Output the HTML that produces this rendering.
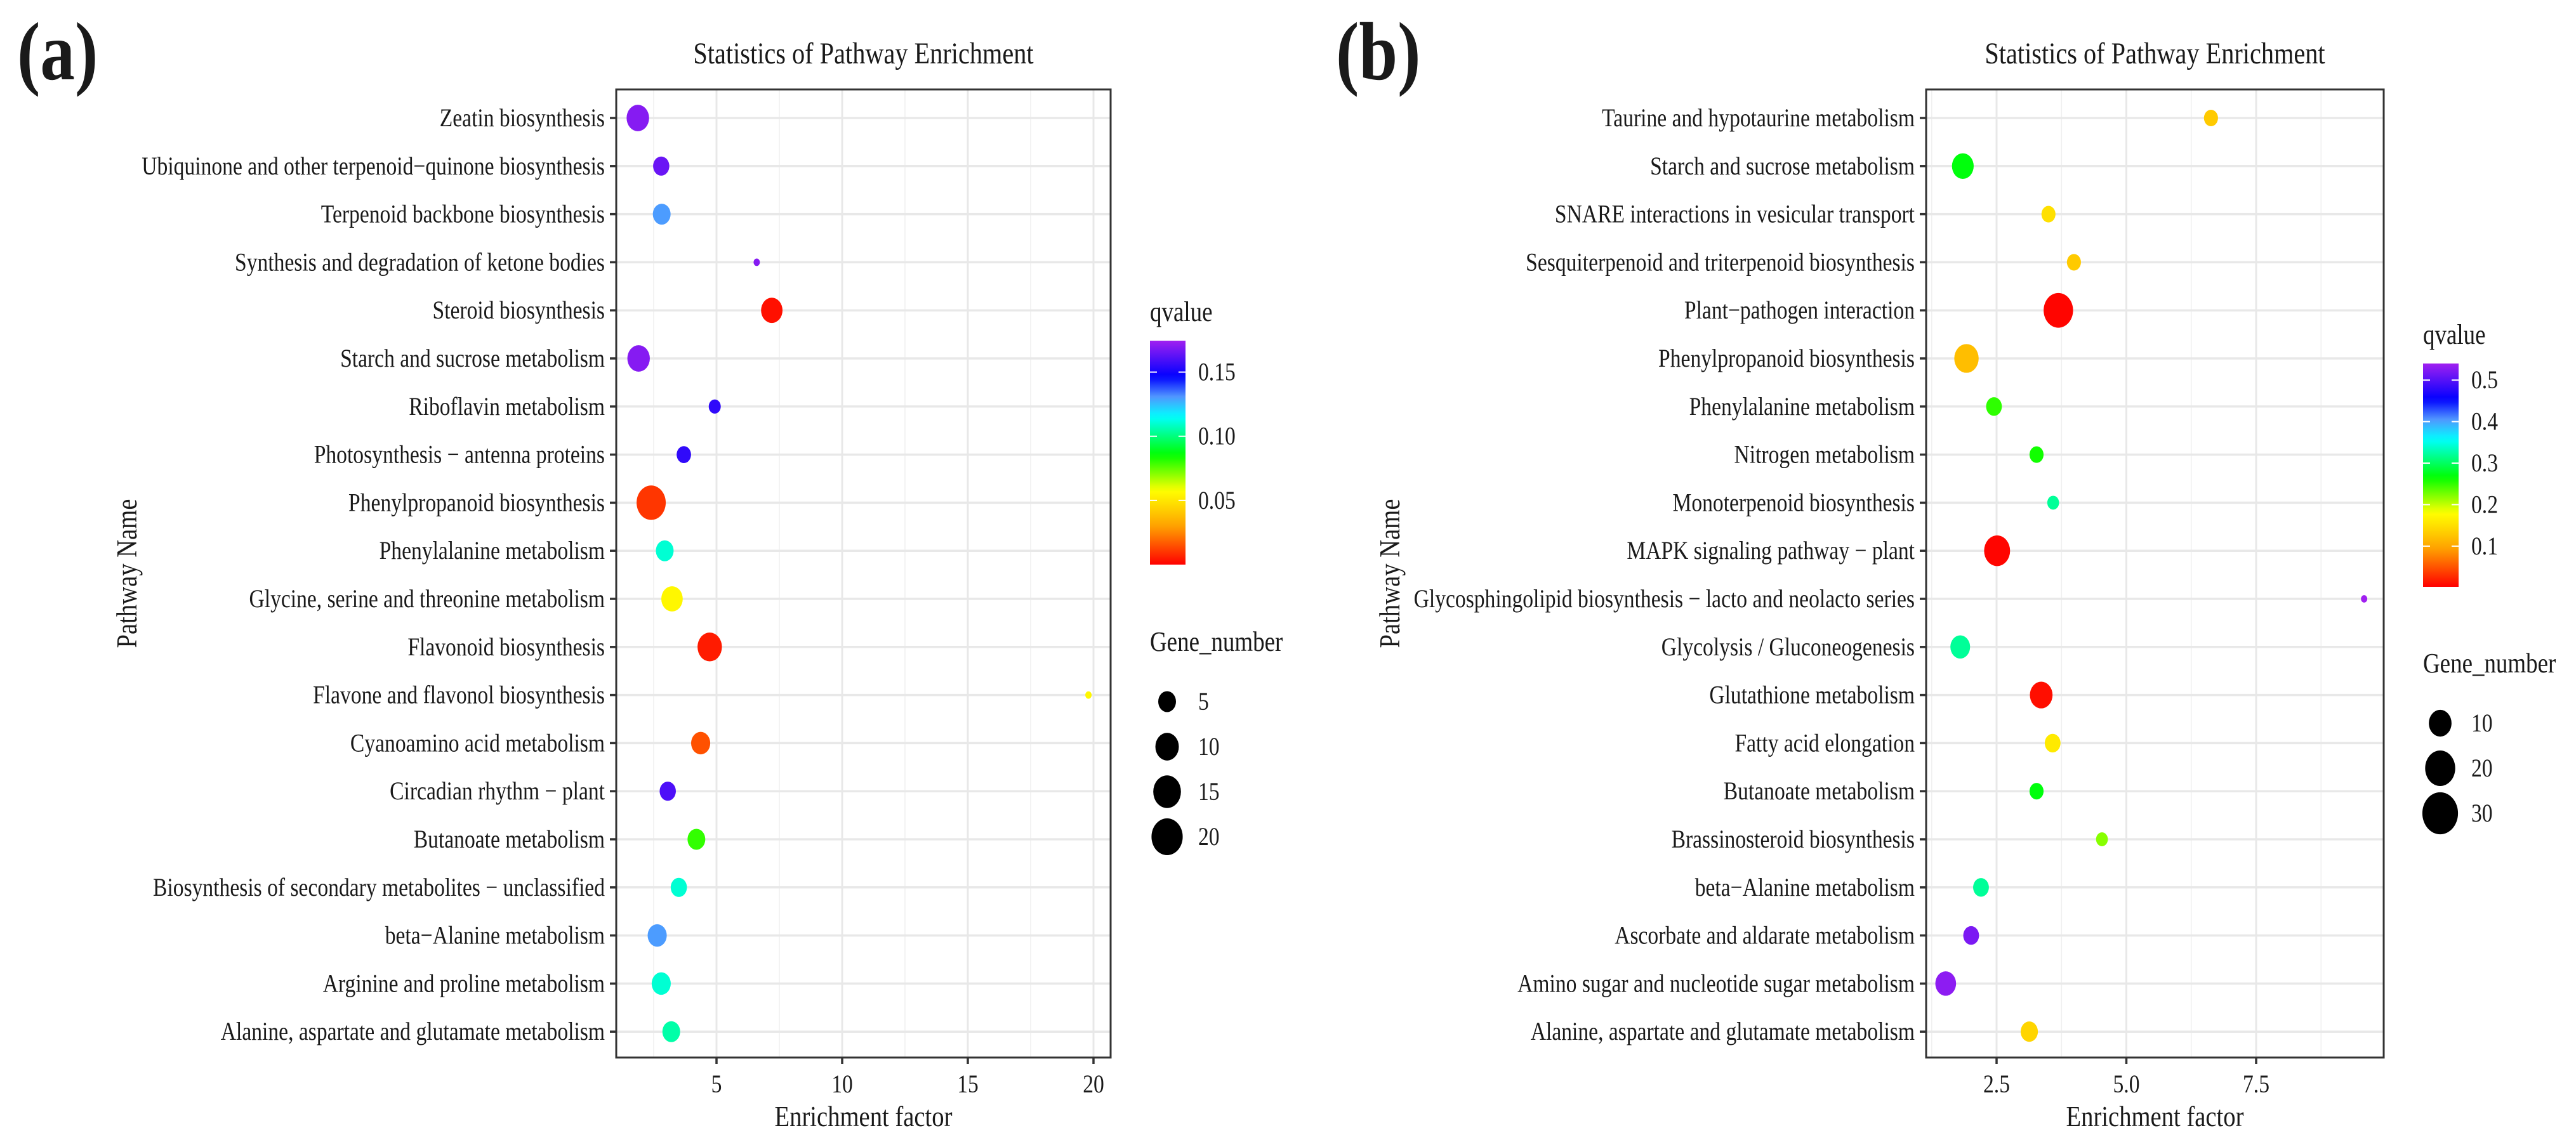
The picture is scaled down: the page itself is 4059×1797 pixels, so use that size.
<!DOCTYPE html>
<html><head><meta charset="utf-8"><style>
html,body{margin:0;padding:0;background:#fff;}
svg{display:block;}
text{font-family:"Liberation Serif",serif;fill:#1a1a1a;}
</style></head>
<body>
<svg id="fig" width="4059" height="1797" viewBox="0 0 4059 1797" xmlns="http://www.w3.org/2000/svg"></svg>
<script>
// ---------- Panel A data ----------
const catsA = ["Zeatin biosynthesis","Ubiquinone and other terpenoid\u2212quinone biosynthesis","Terpenoid backbone biosynthesis","Synthesis and degradation of ketone bodies","Steroid biosynthesis","Starch and sucrose metabolism","Riboflavin metabolism","Photosynthesis \u2212 antenna proteins","Phenylpropanoid biosynthesis","Phenylalanine metabolism","Glycine, serine and threonine metabolism","Flavonoid biosynthesis","Flavone and flavonol biosynthesis","Cyanoamino acid metabolism","Circadian rhythm \u2212 plant","Butanoate metabolism","Biosynthesis of secondary metabolites \u2212 unclassified","beta\u2212Alanine metabolism","Arginine and proline metabolism","Alanine, aspartate and glutamate metabolism"];
const richA = [1.87,2.8,2.82,6.6,7.2,1.9,4.93,3.7,2.4,2.94,3.23,4.73,19.8,4.37,3.06,4.2,3.5,2.64,2.8,3.2];
const genesA = [9,4,5,1,8,9,2,3,17,5,8,11,1,6,4,5,4,6,6,5];
const qA = [0.17,0.165,0.13,0.17,0.003,0.17,0.155,0.155,0.01,0.11,0.055,0.005,0.055,0.015,0.16,0.08,0.11,0.13,0.11,0.105];
const xTicksA = [5,10,15,20];
const qTicksA = [0.05,0.10,0.15];
const qTickLabelsA = ["0.05","0.10","0.15"];
const sizeTicksA = [5,10,15,20];

// ---------- Panel B data ----------
const catsB = ["Taurine and hypotaurine metabolism","Starch and sucrose metabolism","SNARE interactions in vesicular transport","Sesquiterpenoid and triterpenoid biosynthesis","Plant\u2212pathogen interaction","Phenylpropanoid biosynthesis","Phenylalanine metabolism","Nitrogen metabolism","Monoterpenoid biosynthesis","MAPK signaling pathway \u2212 plant","Glycosphingolipid biosynthesis \u2212 lacto and neolacto series","Glycolysis / Gluconeogenesis","Glutathione metabolism","Fatty acid elongation","Butanoate metabolism","Brassinosteroid biosynthesis","beta\u2212Alanine metabolism","Ascorbate and aldarate metabolism","Amino sugar and nucleotide sugar metabolism","Alanine, aspartate and glutamate metabolism"];
const richB = [6.63,1.85,3.5,3.99,3.69,1.92,2.45,3.27,3.59,2.51,9.58,1.8,3.36,3.58,3.27,4.53,2.2,2.01,1.52,3.13];
const genesB = [3,9,3,3,19,12,4,3,2,14,1,7,10,4,3,2,4,4,8,5];
const qB = [0.13,0.27,0.15,0.13,0.005,0.12,0.25,0.26,0.32,0.005,0.54,0.32,0.01,0.16,0.27,0.22,0.32,0.52,0.53,0.14];
const xTicksB = [2.5,5.0,7.5];
const xTickLabelsB = ["2.5","5.0","7.5"];
const qTicksB = [0.1,0.2,0.3,0.4,0.5];
const qTickLabelsB = ["0.1","0.2","0.3","0.4","0.5"];
const sizeTicksB = [10,20,30];

const NS = "http://www.w3.org/2000/svg";
const svg = document.getElementById('fig');
const SX = 0.84;

function el(tag, attrs, parent){
  const e = document.createElementNS(NS, tag);
  for (const k in attrs) e.setAttribute(k, attrs[k]);
  (parent||svg).appendChild(e);
  return e;
}
function txt(x,y,s,size,anchor,parent,weight){
  const t = el('text',{transform:`translate(${x},${y}) scale(${SX},1)`,'font-size':size,'text-anchor':anchor||'start','font-weight':weight||'normal'},parent);
  t.textContent = s;
  return t;
}
// rainbow colormap: t in [0,1], 0=red, 1=purple
const stops = [[0,[255,0,0]],[0.17,[255,160,0]],[0.26,[255,215,0]],[0.33,[255,255,0]],[0.49,[0,255,0]],[0.66,[0,255,255]],[0.75,[80,150,255]],[0.84,[0,0,255]],[1,[160,32,240]]];
function cmap(t){
  t=Math.max(0,Math.min(1,t));
  for(let i=1;i<stops.length;i++){
    if(t<=stops[i][0]){
      const a=stops[i-1],b=stops[i];const f=(t-a[0])/(b[0]-a[0]);
      const c=a[1].map((v,j)=>Math.round(v+(b[1][j]-v)*f));
      return `rgb(${c[0]},${c[1]},${c[2]})`;
    }
  }
  return 'rgb(160,32,240)';
}

function panel(cfg){
  const g = el('g',{});
  
  
  const L=cfg.left,R=cfg.right,T=141,B=1667;
  const xs = v => cfg.x0 + v*cfg.unit;
  const ys = i => 186 + i*75.8;
  const pl = txt(cfg.labelX,125,cfg.label,130,'start',g,'bold');
  
  
  pl.setAttribute('fill','#000');
  const tt = txt((L+R)/2,100,"Statistics of Pathway Enrichment",48,'middle',g);
  
  
  el('rect',{x:L,y:T,width:R-L,height:B-T,fill:'#fff'},g);
  for(const m of cfg.minor){ if(xs(m)>L&&xs(m)<R) el('line',{x1:xs(m),x2:xs(m),y1:T,y2:B,stroke:'#f0f0f0','stroke-width':1.6},g); }
  cfg.xt.forEach(v=>{ el('line',{x1:xs(v),x2:xs(v),y1:T,y2:B,stroke:'#e8e8e8','stroke-width':3},g); });
  cfg.cats.forEach((c,i)=>{ el('line',{x1:L,x2:R,y1:ys(i),y2:ys(i),stroke:'#e8e8e8','stroke-width':3.5},g); });
  el('rect',{x:L,y:T,width:R-L,height:B-T,fill:'none',stroke:'#333','stroke-width':3},g);
  cfg.cats.forEach((c,i)=>{
    el('line',{x1:L-10,x2:L,y1:ys(i),y2:ys(i),stroke:'#333','stroke-width':3.5},g);
    const t = txt(L-18,ys(i)+13,c,40,'end',g);
    
    
    t.setAttribute('fill','#4d4d4d');
  });
  cfg.xt.forEach((v,i)=>{
    el('line',{x1:xs(v),x2:xs(v),y1:B,y2:B+10,stroke:'#333','stroke-width':3.5},g);
    const t = txt(xs(v),1722,cfg.xtl[i],40,'middle',g);
    
    
    t.setAttribute('fill','#4d4d4d');
  });
  const xt = txt((L+R)/2,1775,"Enrichment factor",46,'middle',g);
  
  
  const yt = el('text',{transform:`translate(${cfg.yTitleX},904) rotate(-90) scale(${SX},1)`,'font-size':46,'text-anchor':'middle'},g);
  yt.textContent = "Pathway Name";
  
  
  const rad = n => cfg.r0 + cfg.r1*Math.sqrt(Math.max(0,(n-cfg.nmin)/(cfg.nmax-cfg.nmin)));
  const qt = q => (q-cfg.qmin)/(cfg.qmax-cfg.qmin);
  cfg.cats.forEach((c,i)=>{
    const r = rad(cfg.genes[i]);
    const p = el('ellipse',{cx:xs(cfg.rich[i]),cy:ys(i),rx:r,ry:r*1.18,fill:cmap(qt(cfg.q[i]))},g);
    
    
  });
  const lt = txt(cfg.legX,cfg.qTitleY,"qvalue",44,'start',g);
  
  
  const gid='grad'+cfg.label.replace(/\W/g,'');
  const defs = el('defs',{},g);
  const lg = el('linearGradient',{id:gid,x1:0,y1:1,x2:0,y2:0},defs);
  for(let k=0;k<=40;k++){ el('stop',{offset:k/40,'stop-color':cmap(k/40)},lg); }
  const cb = el('rect',{x:cfg.legX,y:cfg.cbT,width:56,height:cfg.cbB-cfg.cbT,fill:`url(#${gid})`},g);
  
  
  const cy = q => cfg.cbB - qt(q)*(cfg.cbB-cfg.cbT);
  cfg.qticks.forEach((q,i)=>{
    el('line',{x1:cfg.legX,x2:cfg.legX+11,y1:cy(q),y2:cy(q),stroke:'#fff','stroke-width':2},g);
    el('line',{x1:cfg.legX+45,x2:cfg.legX+56,y1:cy(q),y2:cy(q),stroke:'#fff','stroke-width':2},g);
    const t = txt(cfg.legX+76,cy(q)+13,cfg.qtl[i],40,'start',g);
    
    
  });
  const st = txt(cfg.legX,cfg.sTitleY,"Gene_number",44,'start',g);
  
  
  cfg.sticks.forEach((n,i)=>{
    const yy = cfg.sTitleY+80+i*71;
    const r = rad(n);
    const d = el('ellipse',{cx:cfg.legX+27,cy:yy,rx:r,ry:r*1.18,fill:'#000'},g);
    
    
    txt(cfg.legX+76,yy+13,String(n),40,'start',g);
  });
}

panel({name:'panel-a',label:'(a)',labelX:27,left:971,right:1750,x0:931,unit:39.6,minor:[2.5,7.5,12.5,17.5],
  xt:xTicksA,xtl:xTicksA.map(String),cats:catsA,rich:richA,genes:genesA,q:qA,yTitleX:215,
  r0:5,r1:20.6,nmin:1,nmax:22,qmin:0,qmax:0.1745,qticks:qTicksA,qtl:qTickLabelsA,
  legX:1812,qTitleY:506,cbT:537,cbB:890,sTitleY:1026,sticks:sizeTicksA});
panel({name:'panel-b',label:'(b)',labelX:2105,left:3035,right:3756,x0:2941.5,unit:81.8,minor:[1.25,3.75,6.25,8.75],
  xt:xTicksB,xtl:xTickLabelsB,cats:catsB,rich:richB,genes:genesB,q:qB,yTitleX:2205,
  r0:5,r1:25,nmin:1,nmax:35,qmin:0.002,qmax:0.54,qticks:qTicksB,qtl:qTickLabelsB,
  legX:3818,qTitleY:542,cbT:573,cbB:925,sTitleY:1060,sticks:sizeTicksB});
</script>
</body></html>
